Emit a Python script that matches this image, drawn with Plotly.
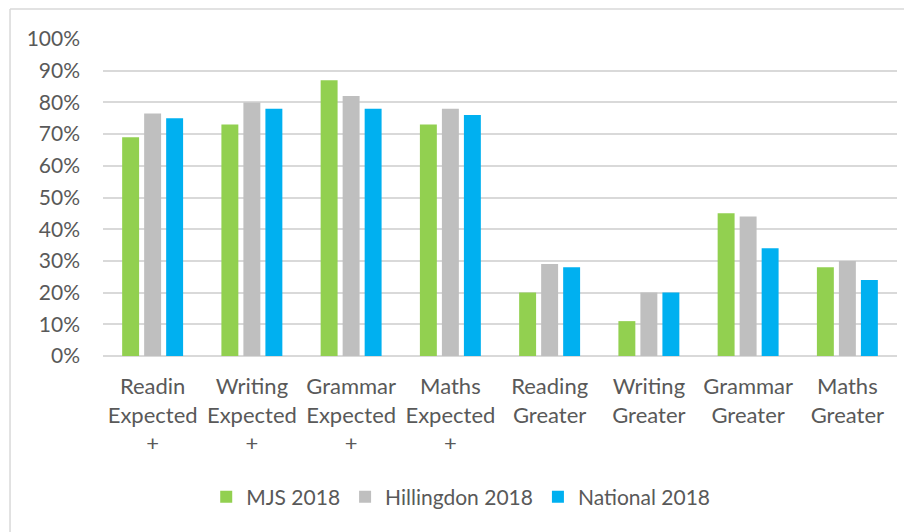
import plotly.graph_objects as go

categories = ["Readin<br>Expected<br>+", "Writing<br>Expected<br>+", "Grammar<br>Expected<br>+",
              "Maths<br>Expected<br>+", "Reading<br>Greater", "Writing<br>Greater",
              "Grammar<br>Greater", "Maths<br>Greater"]
mjs = [69, 73, 87, 73, 20, 11, 45, 28]
hillingdon = [76.5, 80, 82, 78, 29, 20, 44, 30]
national = [75, 78, 78, 76, 28, 20, 34, 24]
series_names = ["MJS 2018", "Hillingdon 2018", "National 2018"]
colors = ["#92D050", "#BFBFBF", "#00B0F0"]

FONT = "Lato"
TXT = "#595959"

fig = go.Figure()
for name, vals, col in zip(series_names, [mjs, hillingdon, national], colors):
    fig.add_trace(go.Bar(x=categories, y=[v / 100 for v in vals], name=name,
                         marker=dict(color=col, line=dict(width=0))))

fig.update_layout(
    width=904, height=524,
    margin=dict(l=95, r=15, t=31, b=176, autoexpand=False),
    paper_bgcolor="white", plot_bgcolor="white",
    barmode="group", bargap=0.335, bargroupgap=0.23,
    font=dict(family=FONT, color=TXT),
    showlegend=True,
    legend=dict(orientation="h", x=0.13, xanchor="left", y=-0.445, yanchor="middle",
                font=dict(size=21, color=TXT, family=FONT), traceorder="normal"),
    xaxis=dict(tickfont=dict(size=22, color=TXT, family=FONT), showgrid=False,
               showline=False, ticks="", ticklabelstandoff=15, automargin=False),
    yaxis=dict(range=[0, 1], tickvals=[i / 10 for i in range(11)], tickformat=".0%",
               tickfont=dict(size=21, color=TXT, family=FONT), gridcolor="#D9D9D9",
               gridwidth=1.5, zeroline=True, zerolinecolor="#D9D9D9", zerolinewidth=1.5,
               showline=False, ticks="", ticklabelstandoff=22, automargin=False),
    shapes=[
        dict(type="line", xref="paper", yref="paper", x0=-0.1171, x1=-0.1171, y0=1.0946, y1=-0.6,
             line=dict(color="#D9D9D9", width=1.5)),
        dict(type="line", xref="paper", yref="paper", x0=-0.1171, x1=1.03, y0=1.0946, y1=1.0946,
             line=dict(color="#D9D9D9", width=1.5)),
    ],
)

fig.write_html("out.html")
